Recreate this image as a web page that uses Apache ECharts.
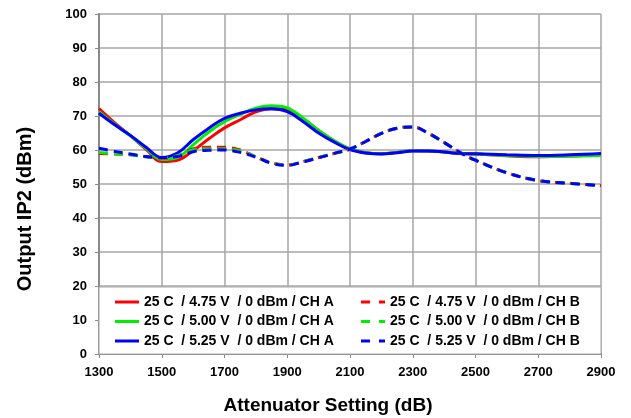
<!DOCTYPE html>
<html>
<head>
<meta charset="utf-8">
<script src="https://cdn.jsdelivr.net/npm/echarts@6/dist/echarts.min.js"></script>
<style>html,body{margin:0;padding:0;background:#fff}#c{width:631px;height:418px}</style>
</head>
<body>
<div id="c"></div>
<script>
// Attenuator setting (x)
var xVals = [1300,1350,1400,1450,1500,1550,1600,1650,1700,1750,1800,1850,1900,1950,2000,2050,2100,2150,2200,2250,2300,2350,2400,2450,2500,2600,2700,2800,2900];
// CH A (solid)
var redA   = [72.2,68.0,64.2,60.2,56.6,57.0,59.8,63.3,66.5,68.9,71.2,72.1,71.8,69.2,65.7,62.6,60.3,59.2,58.9,59.3,59.8,59.7,59.4,59.0,58.8,58.3,58.0,58.2,58.7];
var greenA = [71.3,67.6,64.2,60.5,57.2,57.8,61.5,65.3,68.3,70.5,72.3,73.0,72.4,69.4,65.8,62.7,60.3,59.2,58.9,59.3,59.8,59.7,59.4,59.0,58.8,58.4,58.1,58.2,58.4];
var blueA  = [70.8,67.4,64.3,60.8,57.8,59.1,63.0,66.4,69.3,70.8,71.8,72.1,71.3,68.4,65.0,62.3,60.1,59.1,58.8,59.2,59.7,59.7,59.4,59.0,58.9,58.6,58.4,58.6,59.0];
// CH B (dashed)
var redB   = [59.0,58.8,58.6,58.0,57.6,58.3,60.3,60.8,60.8,60.0,58.0,56.2,55.6,56.6,57.8,59.0,60.3,62.5,64.9,66.4,66.8,64.9,62.2,59.3,57.0,53.3,51.0,50.2,49.5];
var greenB = [59.3,58.9,58.6,58.0,57.7,58.3,60.0,60.4,60.4,59.7,58.0,56.2,55.6,56.6,57.8,59.0,60.3,62.5,64.9,66.4,66.8,64.9,62.2,59.3,57.0,53.3,51.0,50.2,49.5];
var blueB  = [60.5,59.6,58.8,58.1,57.8,58.1,59.5,59.9,60.0,59.3,57.9,56.1,55.5,56.5,57.7,59.0,60.3,62.5,64.9,66.4,66.8,64.9,62.2,59.3,57.0,53.3,51.0,50.2,49.5];
var namesA = ['25 C  / 4.75 V  / 0 dBm / CH A','25 C  / 5.00 V  / 0 dBm / CH A','25 C  / 5.25 V  / 0 dBm / CH A'];
var namesB = ['25 C  / 4.75 V  / 0 dBm / CH B','25 C  / 5.00 V  / 0 dBm / CH B','25 C  / 5.25 V  / 0 dBm / CH B'];
var colors = ['#ff0000','#00ee00','#0000ff'];
var xTitle = 'Attenuator Setting (dB)';
var yTitle = 'Output IP2 (dBm)';

function pairs(ys){ return xVals.map(function(x,i){ return [x, ys[i]]; }); }
var FONT = '"Liberation Sans", Arial, sans-serif';
function mk(name, ys, color, dashed){
  return {
    name: name, type: 'line', data: pairs(ys), smooth: 0.4, symbol: 'none',
    lineStyle: { color: color, width: 3, type: dashed ? [9,6] : 'solid' },
    itemStyle: { color: color }, z: 3
  };
}
var series = [
  mk(namesA[0], redA, colors[0], false),
  mk(namesA[1], greenA, colors[1], false),
  mk(namesA[2], blueA, colors[2], false),
  mk(namesB[0], redB, colors[0], true),
  mk(namesB[1], greenB, colors[1], true),
  mk(namesB[2], blueB, colors[2], true)
];
var legendText = { fontFamily: FONT, fontWeight: 'bold', fontSize: 14, color: '#000', lineHeight: 16 };
var chart = echarts.init(document.getElementById('c'), null, { renderer: 'canvas' });
chart.setOption({
  animation: false,
  backgroundColor: '#fff',
  grid: { left: 99, right: 30, top: 14, bottom: 64, containLabel: false, outerBoundsMode: 'none' },
  xAxis: {
    type: 'value', min: 1300, max: 2900, interval: 200,
    axisLine: { show: true, lineStyle: { color: '#8a8a8a', width: 2 } },
    axisTick: { show: true, length: 4, lineStyle: { color: '#8a8a8a' } },
    axisLabel: { fontFamily: FONT, fontWeight: 'bold', fontSize: 13, color: '#000', margin: 12,
      formatter: function(v){ return String(v); } },
    splitLine: { show: true, lineStyle: { color: '#a6a6a6', width: 1.5 } }
  },
  yAxis: {
    type: 'value', min: 0, max: 100, interval: 10,
    axisLine: { show: true, lineStyle: { color: '#8a8a8a', width: 2 } },
    axisTick: { show: true, length: 4, lineStyle: { color: '#8a8a8a' } },
    axisLabel: { fontFamily: FONT, fontWeight: 'bold', fontSize: 13, color: '#000', margin: 12 },
    splitLine: { show: true, lineStyle: { color: '#a6a6a6', width: 1.5 } }
  },
  legend: [
    { orient: 'vertical', left: 110, top: 289, itemWidth: 24, itemHeight: 3, itemGap: 3.5,
      icon: 'rect', data: namesA, textStyle: legendText, selectedMode: false, z: 10 },
    { orient: 'vertical', left: 356, top: 289, itemWidth: 24, itemHeight: 3, itemGap: 3.5,
      icon: 'path://M0,0h9v3h-9z M18,0h6v3h-6z', data: namesB, textStyle: legendText, selectedMode: false, z: 10 }
  ],
  graphic: [
    { type: 'rect', z: 5, shape: { x: 99, y: 287, width: 502, height: 67 },
      style: { fill: '#fff', stroke: '#a6a6a6', lineWidth: 1 } },
    { type: 'text', z: 6, x: 328, y: 406,
      style: { text: xTitle, font: 'bold 19px ' + FONT, fill: '#000', textAlign: 'center', textVerticalAlign: 'middle' } },
    { type: 'text', z: 6, x: 25, y: 209, rotation: Math.PI / 2,
      style: { text: yTitle, font: 'bold 20px ' + FONT, fill: '#000', textAlign: 'center', textVerticalAlign: 'middle' } }
  ],
  series: series
});
</script>
</body>
</html>
